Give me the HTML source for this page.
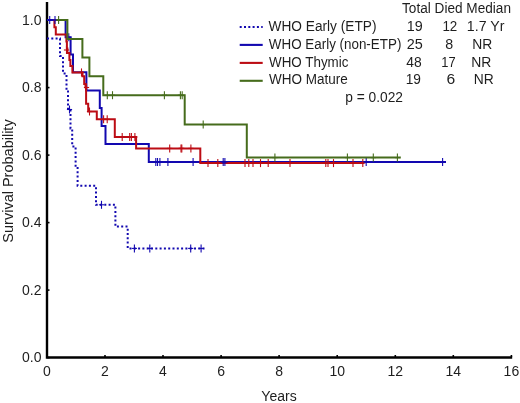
<!DOCTYPE html>
<html><head><meta charset="utf-8"><style>
html,body{margin:0;padding:0;background:#fff;}
body{width:520px;height:403px;overflow:hidden;font-family:"Liberation Sans", sans-serif;}
svg{display:block;will-change:transform;-webkit-font-smoothing:antialiased;}
</style></head><body>
<svg width="520" height="403" viewBox="0 0 520 403">
<rect width="520" height="403" fill="#ffffff"/>
<path d="M47 2 V357.5 H512.2" fill="none" stroke="#000" stroke-width="2.4"/>
<g stroke="#000" stroke-width="1.6"><line x1="46.9" y1="355" x2="46.9" y2="357"/><line x1="105.0" y1="355" x2="105.0" y2="357"/><line x1="163.0" y1="355" x2="163.0" y2="357"/><line x1="221.1" y1="355" x2="221.1" y2="357"/><line x1="279.1" y1="355" x2="279.1" y2="357"/><line x1="337.2" y1="355" x2="337.2" y2="357"/><line x1="395.3" y1="355" x2="395.3" y2="357"/><line x1="453.3" y1="355" x2="453.3" y2="357"/><line x1="511.4" y1="355" x2="511.4" y2="357"/><line x1="47" y1="357.6" x2="49.5" y2="357.6"/><line x1="47" y1="290.1" x2="49.5" y2="290.1"/><line x1="47" y1="222.6" x2="49.5" y2="222.6"/><line x1="47" y1="155.1" x2="49.5" y2="155.1"/><line x1="47" y1="87.6" x2="49.5" y2="87.6"/><line x1="47" y1="20.1" x2="49.5" y2="20.1"/></g>
<g font-family="Liberation Sans, sans-serif" font-size="14" fill="#1e1e1e"><text x="46.9" y="376.3" text-anchor="middle">0</text><text x="105.0" y="376.3" text-anchor="middle">2</text><text x="163.0" y="376.3" text-anchor="middle">4</text><text x="221.1" y="376.3" text-anchor="middle">6</text><text x="279.1" y="376.3" text-anchor="middle">8</text><text x="337.2" y="376.3" text-anchor="middle">10</text><text x="395.3" y="376.3" text-anchor="middle">12</text><text x="453.3" y="376.3" text-anchor="middle">14</text><text x="511.4" y="376.3" text-anchor="middle">16</text><text x="41.5" y="362.2" text-anchor="end">0.0</text><text x="41.5" y="294.7" text-anchor="end">0.2</text><text x="41.5" y="227.2" text-anchor="end">0.4</text><text x="41.5" y="159.7" text-anchor="end">0.6</text><text x="41.5" y="92.2" text-anchor="end">0.8</text><text x="41.5" y="24.7" text-anchor="end">1.0</text><text x="279" y="400.6" text-anchor="middle">Years</text><text transform="translate(13.4,181) rotate(-90)" text-anchor="middle" font-size="14.5">Survival Probability</text></g>
<path d="M47.0 38.5 H60.0 V56.0 H63.0 V73.5 H66.5 V91.5 H68.0 V110.0 H70.5 V128.6 H72.2 V146.4 H75.6 V167.0 H77.6 V185.8 H96.0 V204.8 H115.4 V226.6 H127.7 V248.4 H204.5" fill="none" stroke="#1208b0" stroke-width="2.0" stroke-dasharray="2 2.3"/>
<g stroke="#1208b0" stroke-width="1.1"><line x1="69.5" y1="105.5" x2="69.5" y2="113.5"/><line x1="66.9" y1="109.5" x2="72.1" y2="109.5"/><line x1="101.5" y1="200.8" x2="101.5" y2="208.8"/><line x1="98.9" y1="204.8" x2="104.1" y2="204.8"/><line x1="134.4" y1="244.4" x2="134.4" y2="252.4"/><line x1="131.8" y1="248.4" x2="137.0" y2="248.4"/><line x1="149.8" y1="244.4" x2="149.8" y2="252.4"/><line x1="147.2" y1="248.4" x2="152.4" y2="248.4"/><line x1="190.7" y1="244.4" x2="190.7" y2="252.4"/><line x1="188.1" y1="248.4" x2="193.3" y2="248.4"/><line x1="201.1" y1="244.4" x2="201.1" y2="252.4"/><line x1="198.5" y1="248.4" x2="203.7" y2="248.4"/></g>
<path d="M47.0 20.0 H65.6 V37.3 H70.6 V54.5 H73.0 V72.3 H86.4 V90.6 H99.8 V108.0 H101.6 V126.0 H105.5 V144.0 H148.8 V162.0 H446" fill="none" stroke="#1208b0" stroke-width="2.0"/>
<path d="M47.0 20.0 H54.4 V27.3 H55.8 V34.5 H66.4 V41.5 H66.9 V48.5 H67.4 V53.0 H69.4 V60.0 H70.4 V66.0 H72.4 V72.4 H82.5 V76.2 H84.2 V84.0 H85.5 V87.3 H86.1 V103.7 H88.2 V111.5 H96.8 V119.3 H114.8 V137.0 H136.1 V148.4 H200.3 V163.1 H363.8" fill="none" stroke="#bc0c14" stroke-width="2.0"/>
<g stroke="#bc0c14" stroke-width="1.1"><line x1="66.5" y1="46.0" x2="66.5" y2="54.0"/><line x1="63.9" y1="50.0" x2="69.1" y2="50.0"/><line x1="81.5" y1="68.4" x2="81.5" y2="76.4"/><line x1="78.9" y1="72.4" x2="84.1" y2="72.4"/><line x1="86.5" y1="83.5" x2="86.5" y2="91.5"/><line x1="83.9" y1="87.5" x2="89.1" y2="87.5"/><line x1="89.5" y1="107.5" x2="89.5" y2="115.5"/><line x1="86.9" y1="111.5" x2="92.1" y2="111.5"/><line x1="103.6" y1="115.3" x2="103.6" y2="123.3"/><line x1="101.0" y1="119.3" x2="106.2" y2="119.3"/><line x1="107.2" y1="115.3" x2="107.2" y2="123.3"/><line x1="104.6" y1="119.3" x2="109.8" y2="119.3"/><line x1="122.2" y1="133.0" x2="122.2" y2="141.0"/><line x1="119.6" y1="137.0" x2="124.8" y2="137.0"/><line x1="129.7" y1="133.0" x2="129.7" y2="141.0"/><line x1="127.1" y1="137.0" x2="132.3" y2="137.0"/><line x1="131.4" y1="133.0" x2="131.4" y2="141.0"/><line x1="128.8" y1="137.0" x2="134.0" y2="137.0"/><line x1="134.9" y1="133.0" x2="134.9" y2="141.0"/><line x1="132.3" y1="137.0" x2="137.5" y2="137.0"/><line x1="169.7" y1="144.4" x2="169.7" y2="152.4"/><line x1="167.1" y1="148.4" x2="172.3" y2="148.4"/><line x1="181.0" y1="144.4" x2="181.0" y2="152.4"/><line x1="178.4" y1="148.4" x2="183.6" y2="148.4"/><line x1="181.8" y1="144.4" x2="181.8" y2="152.4"/><line x1="179.2" y1="148.4" x2="184.4" y2="148.4"/><line x1="190.9" y1="144.4" x2="190.9" y2="152.4"/><line x1="188.3" y1="148.4" x2="193.5" y2="148.4"/><line x1="208.0" y1="159.1" x2="208.0" y2="167.1"/><line x1="205.4" y1="163.1" x2="210.6" y2="163.1"/><line x1="217.8" y1="159.1" x2="217.8" y2="167.1"/><line x1="215.2" y1="163.1" x2="220.4" y2="163.1"/><line x1="245.0" y1="159.1" x2="245.0" y2="167.1"/><line x1="242.4" y1="163.1" x2="247.6" y2="163.1"/><line x1="248.8" y1="159.1" x2="248.8" y2="167.1"/><line x1="246.2" y1="163.1" x2="251.4" y2="163.1"/><line x1="253.0" y1="159.1" x2="253.0" y2="167.1"/><line x1="250.4" y1="163.1" x2="255.6" y2="163.1"/><line x1="260.5" y1="159.1" x2="260.5" y2="167.1"/><line x1="257.9" y1="163.1" x2="263.1" y2="163.1"/><line x1="268.2" y1="159.1" x2="268.2" y2="167.1"/><line x1="265.6" y1="163.1" x2="270.8" y2="163.1"/><line x1="290.0" y1="159.1" x2="290.0" y2="167.1"/><line x1="287.4" y1="163.1" x2="292.6" y2="163.1"/><line x1="325.8" y1="159.1" x2="325.8" y2="167.1"/><line x1="323.2" y1="163.1" x2="328.4" y2="163.1"/><line x1="328.0" y1="159.1" x2="328.0" y2="167.1"/><line x1="325.4" y1="163.1" x2="330.6" y2="163.1"/><line x1="333.5" y1="159.1" x2="333.5" y2="167.1"/><line x1="330.9" y1="163.1" x2="336.1" y2="163.1"/><line x1="353.0" y1="159.1" x2="353.0" y2="167.1"/><line x1="350.4" y1="163.1" x2="355.6" y2="163.1"/><line x1="362.8" y1="159.1" x2="362.8" y2="167.1"/><line x1="360.2" y1="163.1" x2="365.4" y2="163.1"/></g>
<g stroke="#1208b0" stroke-width="1.1"><line x1="49.7" y1="16.0" x2="49.7" y2="24.0"/><line x1="47.1" y1="20.0" x2="52.3" y2="20.0"/><line x1="55.0" y1="16.0" x2="55.0" y2="24.0"/><line x1="52.4" y1="20.0" x2="57.6" y2="20.0"/><line x1="68.8" y1="33.3" x2="68.8" y2="41.3"/><line x1="66.2" y1="37.3" x2="71.4" y2="37.3"/><line x1="155.8" y1="158.0" x2="155.8" y2="166.0"/><line x1="153.2" y1="162.0" x2="158.4" y2="162.0"/><line x1="157.5" y1="158.0" x2="157.5" y2="166.0"/><line x1="154.9" y1="162.0" x2="160.1" y2="162.0"/><line x1="159.9" y1="158.0" x2="159.9" y2="166.0"/><line x1="157.3" y1="162.0" x2="162.5" y2="162.0"/><line x1="167.9" y1="158.0" x2="167.9" y2="166.0"/><line x1="165.3" y1="162.0" x2="170.5" y2="162.0"/><line x1="193.1" y1="158.0" x2="193.1" y2="166.0"/><line x1="190.5" y1="162.0" x2="195.7" y2="162.0"/><line x1="223.2" y1="158.0" x2="223.2" y2="166.0"/><line x1="220.6" y1="162.0" x2="225.8" y2="162.0"/><line x1="224.9" y1="158.0" x2="224.9" y2="166.0"/><line x1="222.3" y1="162.0" x2="227.5" y2="162.0"/><line x1="366.2" y1="158.0" x2="366.2" y2="166.0"/><line x1="363.6" y1="162.0" x2="368.8" y2="162.0"/><line x1="442.6" y1="158.0" x2="442.6" y2="166.0"/><line x1="440.0" y1="162.0" x2="445.2" y2="162.0"/></g>
<path d="M47 20 H53.5" fill="none" stroke="#1208b0" stroke-width="2.0"/>
<path d="M56.5 20.0 H67.4 V39.0 H82.4 V57.6 H89.4 V76.2 H103.3 V95.2 H184.7 V124.6 H246.8 V157.6 H400.8" fill="none" stroke="#466c1c" stroke-width="2.0"/>
<g stroke="#466c1c" stroke-width="1.1"><line x1="58.6" y1="16.0" x2="58.6" y2="24.0"/><line x1="56.0" y1="20.0" x2="61.2" y2="20.0"/><line x1="107.3" y1="91.2" x2="107.3" y2="99.2"/><line x1="104.7" y1="95.2" x2="109.9" y2="95.2"/><line x1="112.5" y1="91.2" x2="112.5" y2="99.2"/><line x1="109.9" y1="95.2" x2="115.1" y2="95.2"/><line x1="164.4" y1="91.2" x2="164.4" y2="99.2"/><line x1="161.8" y1="95.2" x2="167.0" y2="95.2"/><line x1="180.4" y1="91.2" x2="180.4" y2="99.2"/><line x1="177.8" y1="95.2" x2="183.0" y2="95.2"/><line x1="182.2" y1="91.2" x2="182.2" y2="99.2"/><line x1="179.6" y1="95.2" x2="184.8" y2="95.2"/><line x1="203.2" y1="120.6" x2="203.2" y2="128.6"/><line x1="200.6" y1="124.6" x2="205.8" y2="124.6"/><line x1="274.9" y1="153.6" x2="274.9" y2="161.6"/><line x1="272.3" y1="157.6" x2="277.5" y2="157.6"/><line x1="347.4" y1="153.6" x2="347.4" y2="161.6"/><line x1="344.8" y1="157.6" x2="350.0" y2="157.6"/><line x1="373.3" y1="153.6" x2="373.3" y2="161.6"/><line x1="370.7" y1="157.6" x2="375.9" y2="157.6"/><line x1="397.4" y1="153.6" x2="397.4" y2="161.6"/><line x1="394.8" y1="157.6" x2="400.0" y2="157.6"/></g>
<g font-family="Liberation Sans, sans-serif" font-size="14.0" fill="#1e1e1e"><text x="402.06" y="13.15" textLength="108.92" lengthAdjust="spacingAndGlyphs">Total Died Median</text><text x="268.58" y="31.40" textLength="107.89" lengthAdjust="spacingAndGlyphs">WHO Early (ETP)</text><text x="406.82" y="31.40" textLength="15.95" lengthAdjust="spacingAndGlyphs">19</text><text x="442.39" y="31.40" textLength="14.91" lengthAdjust="spacingAndGlyphs">12</text><text x="466.84" y="31.40" textLength="37.55" lengthAdjust="spacingAndGlyphs">1.7 Yr</text><text x="268.83" y="49.25" textLength="132.54" lengthAdjust="spacingAndGlyphs">WHO Early (non-ETP)</text><text x="406.68" y="49.25" textLength="16.03" lengthAdjust="spacingAndGlyphs">25</text><text x="445.26" y="49.25" textLength="7.93" lengthAdjust="spacingAndGlyphs">8</text><text x="472.29" y="49.25" textLength="19.99" lengthAdjust="spacingAndGlyphs">NR</text><text x="269.03" y="66.80" textLength="79.41" lengthAdjust="spacingAndGlyphs">WHO Thymic</text><text x="406.35" y="66.80" textLength="15.43" lengthAdjust="spacingAndGlyphs">48</text><text x="441.33" y="66.80" textLength="14.34" lengthAdjust="spacingAndGlyphs">17</text><text x="471.19" y="66.80" textLength="20.10" lengthAdjust="spacingAndGlyphs">NR</text><text x="269.03" y="84.40" textLength="78.76" lengthAdjust="spacingAndGlyphs">WHO Mature</text><text x="405.67" y="84.40" textLength="15.28" lengthAdjust="spacingAndGlyphs">19</text><text x="446.62" y="84.40" textLength="8.71" lengthAdjust="spacingAndGlyphs">6</text><text x="473.79" y="84.40" textLength="19.99" lengthAdjust="spacingAndGlyphs">NR</text><text x="345.31" y="102.10" textLength="57.73" lengthAdjust="spacingAndGlyphs">p = 0.022</text></g>
<line x1="239.7" y1="27.0" x2="262.7" y2="27.0" stroke="#1208b0" stroke-width="2.1" stroke-dasharray="2 2.3"/><line x1="239.7" y1="44.9" x2="262.7" y2="44.9" stroke="#1208b0" stroke-width="2.1"/><line x1="239.7" y1="62.9" x2="262.7" y2="62.9" stroke="#bc0c14" stroke-width="2.1"/><line x1="239.7" y1="80.8" x2="262.7" y2="80.8" stroke="#466c1c" stroke-width="2.1"/>
</svg>
</body></html>
